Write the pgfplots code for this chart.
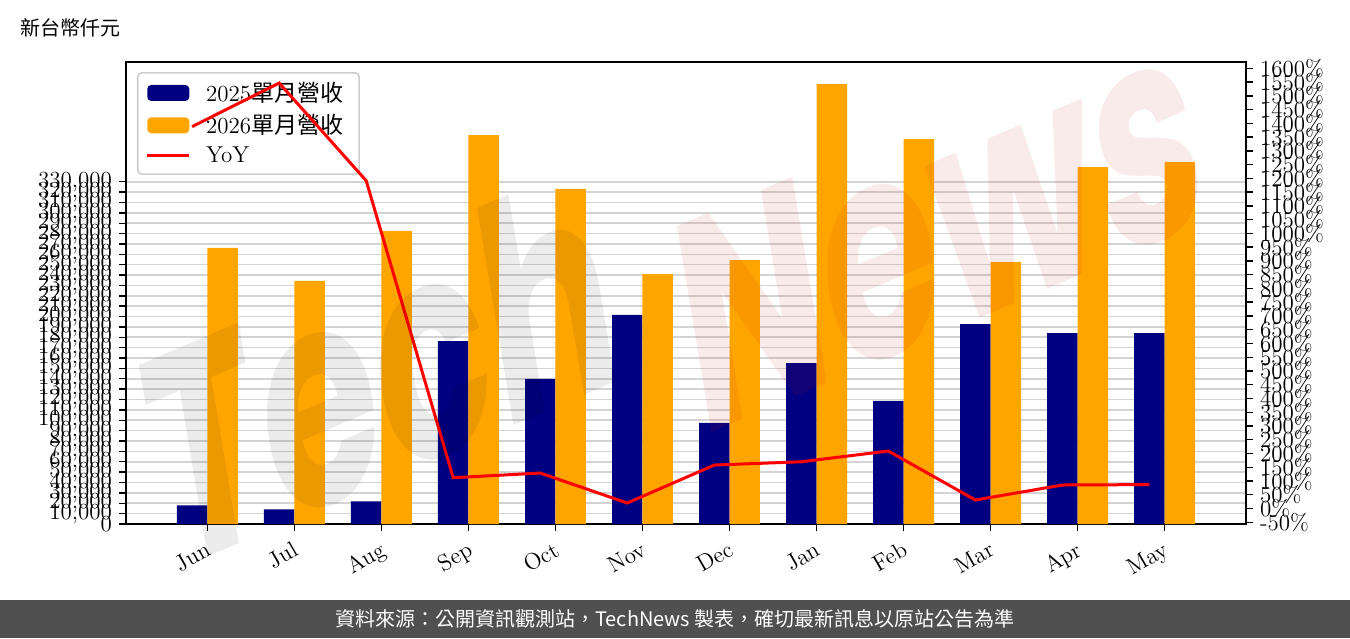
\documentclass[border=0pt]{standalone}
\usepackage{pgfplots}
\usepackage{pgfplotstable}
\pgfplotsset{compat=1.18}
\usepackage{fontspec}
\newfontfamily\cjk{Noto Sans CJK TC}
\newfontfamily\wmfont{Poppins}
\definecolor{navyc}{RGB}{0,0,128}
\definecolor{orangec}{RGB}{255,165,0}
\definecolor{footgray}{RGB}{80,80,80}
\definecolor{gridc}{RGB}{211,211,211}
\definecolor{legc}{RGB}{204,204,204}
\definecolor{wmpink}{RGB}{200,30,30}

\pgfplotstableread{
x a b
0 17900 266100
1 14200 234300
2 21900 282500
3 176400 375000
4 139800 323000
5 201500 241000
6 97400 254500
7 155200 424200
8 118600 371100
9 192800 252600
10 184100 344100
11 184100 349000
}\revtable

\pgfplotstableread{
x y
-0.175 1388
0.825 1546.5
1.825 1191.5
2.825 112
3.825 129
4.825 20.1
5.825 158
6.825 170
7.825 209
8.825 31
9.825 85.5
10.825 87
}\yoytable

\begin{document}
\begin{tikzpicture}
\path[use as bounding box] (0,0) rectangle (675pt,319pt);
\fill[footgray] (0,0) rectangle (675pt,19pt);
\node[text=white, font=\cjk\fontsize{10}{12}\selectfont] at (337.5pt,9.5pt) {資料來源：公開資訊觀測站，TechNews 製表，確切最新訊息以原站公告為準};
\node[anchor=west, font=\cjk\fontsize{10}{12}\selectfont, inner sep=0pt] at (10pt,305pt) {新台幣仟元};

\begin{axis}[
  at={(63pt,57pt)}, anchor=south west,
  width=560pt, height=231pt, scale only axis,
  xmin=-0.935, xmax=11.935, ymin=0, ymax=445410,
  ybar, bar width=0.35,
  xtick={0,...,11},
  xticklabels={Jun,Jul,Aug,Sep,Oct,Nov,Dec,Jan,Feb,Mar,Apr,May},
  xticklabel style={rotate=30, anchor=north east, font=\fontsize{11.5}{13}\selectfont},
  ytick={0,10000,...,330000},
  scaled y ticks=false,
  yticklabel={\pgfmathprintnumber[fixed,precision=0,1000 sep={,},assume math mode=true]{\tick}},
  yticklabel style={font=\fontsize{11.5}{13}\selectfont},
  xtick pos=bottom, ytick pos=left,
  tick align=outside, major tick length=3.5pt,
  tick style={black, line width=0.7pt},
  axis line style={line width=1pt},
  ymajorgrids, major grid style={gridc, line width=0.8pt},
  legend style={at={(0,1)}, anchor=north west, xshift=5.5pt, yshift=-5pt,
    draw=legc, line width=0.8pt, rounded corners=2pt, fill=white, fill opacity=0.8, text opacity=1,
    font=\fontsize{11.5}{13}\selectfont, row sep=1pt, inner xsep=4pt, inner ysep=2.5pt,
    nodes={inner xsep=4pt}},
  legend cell align=left,
]
\addplot[fill=navyc, draw=none, bar shift=-0.175,
  legend image code/.code={\fill[navyc, fill opacity=1] (0pt,-4pt) rectangle (21pt,4pt); \path (25pt,0pt);}]
  table[x=x,y=a]{\revtable};
\addlegendentry{2025{\cjk 單月營收}}
\addplot[fill=orangec, draw=none, bar shift=0.175,
  legend image code/.code={\fill[orangec, fill opacity=1] (0pt,-4pt) rectangle (21pt,4pt); \path (25pt,0pt);}]
  table[x=x,y=b]{\revtable};
\addlegendentry{2026{\cjk 單月營收}}
\addlegendimage{legend image code/.code={\draw[red, line width=1.5pt, draw opacity=1] (0pt,0pt) -- (21pt,0pt); \path (25pt,0pt);}}
\addlegendentry{YoY}
\end{axis}

\begin{axis}[
  at={(63pt,57pt)}, anchor=south west,
  width=560pt, height=231pt, scale only axis,
  xmin=-0.935, xmax=11.935, ymin=-56.2, ymax=1622.9,
  axis x line=none, axis y line*=right,
  ytick={-50,0,...,1600},
  scaled y ticks=false,
  yticklabel={\pgfmathprintnumber[fixed,precision=0,1000 sep={},assume math mode=true]{\tick}\%},
  yticklabel style={font=\fontsize{11.5}{13}\selectfont},
  tick align=outside, major tick length=3.5pt,
  tick style={black, line width=0.7pt},
  axis line style={line width=1pt},
]
\addplot[red, line width=1.5pt, mark=none] table[x=x,y=y]{\yoytable};
\end{axis}

\node[yscale=1.6, rotate=15, text=black, text opacity=0.075, font=\wmfont\bfseries\fontsize{95}{100}\selectfont] at (190pt,135pt) {Tech};
\node[yscale=1.6, rotate=15, text=wmpink, text opacity=0.09, font=\wmfont\bfseries\fontsize{95}{100}\selectfont] at (470pt,206pt) {News};
\end{tikzpicture}
\end{document}
